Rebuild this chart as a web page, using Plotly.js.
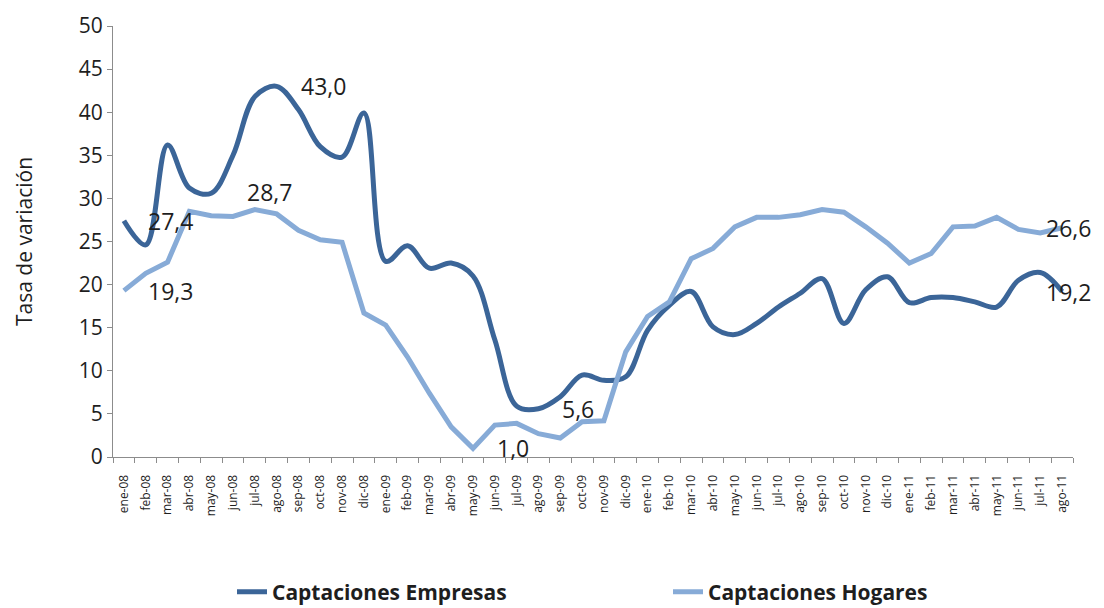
<!DOCTYPE html>
<html>
<head>
<meta charset="utf-8">
<script src="https://cdn.plot.ly/plotly-3.0.1.min.js"></script>
<style>
  html, body { margin: 0; padding: 0; background: #ffffff; }
  #plot { width: 1104px; height: 608px; }
</style>
</head>
<body>
<div id="plot"></div>
<script>
// Meses (ene-08 .. ago-11)
const meses = ['ene-08','feb-08','mar-08','abr-08','may-08','jun-08','jul-08','ago-08','sep-08','oct-08','nov-08','dic-08',
               'ene-09','feb-09','mar-09','abr-09','may-09','jun-09','jul-09','ago-09','sep-09','oct-09','nov-09','dic-09',
               'ene-10','feb-10','mar-10','abr-10','may-10','jun-10','jul-10','ago-10','sep-10','oct-10','nov-10','dic-10',
               'ene-11','feb-11','mar-11','abr-11','may-11','jun-11','jul-11','ago-11'];

// Captaciones Empresas (tasa de variación, %)
const empresas = [27.4, 24.6, 36.2, 31.2, 30.6, 35.0, 41.8, 43.0, 40.3, 36.0, 34.8, 39.9,
                  22.7, 24.5, 21.9, 22.5, 21.0, 13.6, 5.9, 5.6, 7.0, 9.5, 8.9, 9.3,
                  14.7, 17.6, 19.2, 15.1, 14.2, 15.5, 17.4, 19.0, 20.7, 15.5, 19.4, 20.9,
                  17.9, 18.5, 18.5, 18.0, 17.4, 20.5, 21.4, 19.2];

// Captaciones Hogares (tasa de variación, %)
const hogares = [19.3, 21.3, 22.6, 28.5, 28.0, 27.9, 28.7, 28.2, 26.3, 25.2, 24.9, 16.7,
                 15.3, 11.6, 7.4, 3.5, 1.0, 3.7, 3.9, 2.7, 2.2, 4.1, 4.2, 12.2,
                 16.3, 18.0, 23.0, 24.2, 26.7, 27.8, 27.8, 28.1, 28.7, 28.4, 26.7, 24.8,
                 22.5, 23.6, 26.7, 26.8, 27.8, 26.4, 26.0, 26.6];

// Puntos con etiqueta (índices de mes)
const etiquetasEmpresas = [0, 7, 19, 43];
const etiquetasHogares = [0, 6, 16, 43];

const colorEmpresas = '#3b6598';
const colorHogares = '#87abd7';

const fmt = v => v.toFixed(1).replace('.', ',');

const traces = [
  {
    x: meses, y: empresas, type: 'scatter', mode: 'lines',
    name: 'Captaciones Empresas',
    line: { color: colorEmpresas, width: 5, shape: 'spline', smoothing: 1 }
  },
  {
    x: meses, y: hogares, type: 'scatter', mode: 'lines',
    name: 'Captaciones Hogares',
    line: { color: colorHogares, width: 5 }
  }
];

// Posición de cada etiqueta: a la derecha del punto, salvo el máximo de hogares (arriba)
function etiqueta(serie, i, ultimo) {
  const a = {
    x: meses[i], y: serie[i], text: fmt(serie[i]), showarrow: false,
    font: { family: 'Open Sans', size: 23, color: '#1e1e1e' },
    xanchor: 'left', yanchor: 'middle', xshift: 22
  };
  if (i === ultimo) { a.xanchor = 'right'; a.xshift = 31; }
  return a;
}

const annotations = [];
etiquetasEmpresas.forEach(i => annotations.push(etiqueta(empresas, i, meses.length - 1)));
etiquetasHogares.forEach(i => {
  const a = etiqueta(hogares, i, meses.length - 1);
  if (i === 6) { a.xanchor = 'center'; a.xshift = 15; a.yshift = 18; }
  annotations.push(a);
});

const layout = {
  width: 1104, height: 608,
  margin: { l: 113, r: 31, t: 26, b: 151 },
  paper_bgcolor: '#ffffff', plot_bgcolor: 'rgba(0,0,0,0)',
  font: { family: 'Open Sans', color: '#1e1e1e' },
  showlegend: true,
  legend: {
    orientation: 'h', x: 0.128, xanchor: 'left',
    yref: 'container', y: 0.026, yanchor: 'middle',
    font: { family: 'Open Sans', size: 21, color: '#1e1e1e', weight: 'bold' },
    entrywidth: 391, entrywidthmode: 'pixels', traceorder: 'normal'
  },
  xaxis: {
    type: 'category', tickangle: -90, tickson: 'boundaries',
    ticks: 'outside', ticklen: 5, tickcolor: '#8c8c8c',
    showline: true, linecolor: '#8c8c8c', linewidth: 1,
    showgrid: false, zeroline: false, automargin: false,
    ticklabelstandoff: 12,
    tickfont: { family: 'Open Sans', size: 12, color: '#1e1e1e' },
    range: [-0.5, meses.length - 0.5]
  },
  yaxis: {
    range: [0, 50], dtick: 5, tick0: 0,
    ticks: 'outside', ticklen: 5, tickcolor: '#8c8c8c',
    showline: true, linecolor: '#8c8c8c', linewidth: 1,
    showgrid: false, zeroline: false, automargin: false,
    tickfont: { family: 'Open Sans', size: 21, color: '#1e1e1e' },
    title: { text: 'Tasa de variación', font: { family: 'Open Sans', size: 21, color: '#1e1e1e' }, standoff: 40 }
  },
  annotations: annotations
};

Plotly.newPlot('plot', traces, layout, { displayModeBar: false, staticPlot: true });
</script>
</body>
</html>
